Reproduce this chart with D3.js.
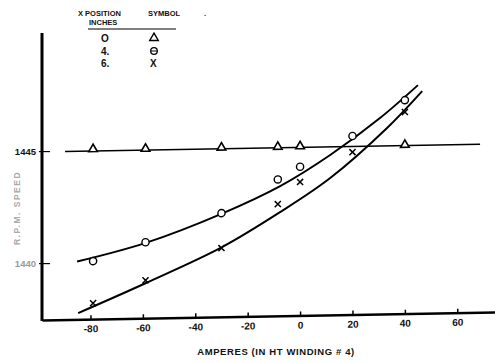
<!DOCTYPE html>
<html><head><meta charset="utf-8">
<script src="https://cdn.jsdelivr.net/npm/d3@7"></script>
<style>body{margin:0;background:#fff}svg{display:block}</style>
</head><body>
<svg id="c" width="495" height="363"></svg>
<script>
// ---- data ----
const xTicks = [-80, -60, -40, -20, 0, 20, 40, 60];
const xTickLabels = ["-80", "-60", "-40", "-20", "0", "20", "40", "60"];
const yTicks = [1445, 1440];
const yTickLabels = ["1445", "1440"];

// position 0 in (triangles)
const triAmps = [-79, -59, -30, -8.5, 0, 40];
const triSpeed = [1445.0, 1444.98, 1444.97, 1444.96, 1444.97, 1444.95];
const triLineAmps = [-89.7, 68.7];
const triLineSpeed = [1444.96, 1444.96];

// position 4 in (circles)
const circAmps = [-79, -59, -30, -8.5, 0, 20, 40];
const circSpeed = [1440.05, 1440.85, 1442.09, 1443.55, 1444.1, 1445.43, 1446.99];
const circCurveAmps = [-85.1, -59.2, -29.8, -7.6, 11.5, 30.5, 45.0];
const circCurveSpeed = [1440.04, 1440.81, 1442.07, 1443.25, 1444.60, 1446.21, 1447.65];

// position 6 in (crosses)
const crossAmps = [-79, -59, -30, -8.5, 0, 20, 40];
const crossSpeed = [1438.17, 1439.15, 1440.53, 1442.45, 1443.42, 1444.71, 1446.46];
const crossCurveAmps = [-84.7, -58.8, -29.8, -7.6, 11.5, 33.2, 46.6];
const crossCurveSpeed = [1437.74, 1439.03, 1440.57, 1442.09, 1443.57, 1445.76, 1447.38];

// ---- drawing ----
const svg = d3.select("#c");
const font = "'Liberation Sans', Arial, sans-serif";
const L = 42, R = 495, T = 33, B = 320;
const x = d3.scaleLinear().domain([-98.5, 74.4]).range([L, R]);
const y = d3.scaleLinear().domain([1437.46, 1450.27]).range([B, T]);

// plot group with slight scan shear
const g = svg.append("g").attr("transform", `translate(${L},0) skewY(-1) translate(${-L},0)`);

// x axis
const xAxis = d3.axisBottom(x).tickValues(xTicks)
  .tickFormat((d, i) => xTickLabels[i]).tickSizeInner(-4).tickSizeOuter(0).tickPadding(6);
const xa = g.append("g").attr("transform", `translate(0,${B})`).call(xAxis);
xa.select(".domain").attr("stroke", "#000").attr("stroke-width", 2.5);
xa.selectAll(".tick line").attr("stroke", "#000").attr("stroke-width", 1.5);
xa.selectAll(".tick text").attr("font-family", font).attr("font-size", 10)
  .attr("font-weight", "bold").attr("fill", "#111");

// y axis
const yAxis = d3.axisLeft(y).tickValues(yTicks)
  .tickFormat((d, i) => yTickLabels[i]).tickSize(3).tickPadding(4);
const ya = svg.append("g").attr("transform", `translate(${L},0)`).call(yAxis);
ya.select(".domain").remove();
ya.selectAll(".tick line").attr("stroke", "#000").attr("stroke-width", 1.2).attr("x2", 8).attr("x1", -3);
ya.selectAll(".tick text").attr("font-family", font).attr("font-size", 9.5)
  .attr("font-weight", "bold").attr("x", -6)
  .attr("fill", (d, i) => i === 0 ? "#111" : "#999");
svg.append("line").attr("x1", L).attr("x2", L).attr("y1", T).attr("y2", B + 1)
  .attr("stroke", "#000").attr("stroke-width", 3);

// y title (faint in the scan)
svg.append("text").attr("transform", `translate(20,208) rotate(-90)`)
  .attr("text-anchor", "middle").attr("font-family", font).attr("font-size", 8.5)
  .attr("font-weight", "bold").attr("fill", "#aaa").attr("letter-spacing", 1.5)
  .text("R.P.M.     SPEED");

// x title
svg.append("text").attr("x", 276).attr("y", 355).attr("text-anchor", "middle")
  .attr("font-family", font).attr("font-size", 9.5).attr("font-weight", "bold")
  .attr("fill", "#111").attr("letter-spacing", 0.6)
  .text("AMPERES   (IN HT WINDING # 4)");

// lines
const line = d3.line().x(d => x(d[0])).y(d => y(d[1]));
const smooth = d3.line().x(d => x(d[0])).y(d => y(d[1])).curve(d3.curveCatmullRom.alpha(0.5));
g.append("path").attr("d", line(d3.zip(triLineAmps, triLineSpeed)))
  .attr("fill", "none").attr("stroke", "#000").attr("stroke-width", 1.6);
g.append("path").attr("d", smooth(d3.zip(circCurveAmps, circCurveSpeed)))
  .attr("fill", "none").attr("stroke", "#000").attr("stroke-width", 2);
g.append("path").attr("d", smooth(d3.zip(crossCurveAmps, crossCurveSpeed)))
  .attr("fill", "none").attr("stroke", "#000").attr("stroke-width", 2);

// markers
const tri = d3.symbol().type(d3.symbolTriangle).size(32);
g.selectAll(".tri").data(d3.zip(triAmps, triSpeed)).join("path")
  .attr("transform", d => `translate(${x(d[0])},${y(d[1]) - 1})`).attr("d", tri())
  .attr("fill", "#fff").attr("stroke", "#000").attr("stroke-width", 1.6);
g.selectAll(".circ").data(d3.zip(circAmps, circSpeed)).join("circle")
  .attr("cx", d => x(d[0])).attr("cy", d => y(d[1])).attr("r", 3.6)
  .attr("fill", "#fff").attr("stroke", "#000").attr("stroke-width", 1.4);
const cross = d3.symbol().type(d3.symbolX).size(26);
g.selectAll(".cross").data(d3.zip(crossAmps, crossSpeed)).join("path")
  .attr("transform", d => `translate(${x(d[0])},${y(d[1])})`).attr("d", cross())
  .attr("fill", "none").attr("stroke", "#000").attr("stroke-width", 1.5);

// legend
const lg = svg.append("g").attr("font-family", font).attr("font-weight", "bold").attr("fill", "#111");
lg.append("text").attr("x", 78).attr("y", 16).attr("font-size", 7.5).text("X POSITION");
lg.append("text").attr("x", 89).attr("y", 25).attr("font-size", 7.5).text("INCHES");
lg.append("text").attr("x", 148).attr("y", 16).attr("font-size", 7.5).text("SYMBOL");
lg.append("text").attr("x", 204).attr("y", 16).attr("font-size", 7.5).text(".");
lg.append("line").attr("x1", 88).attr("x2", 176).attr("y1", 29).attr("y2", 29)
  .attr("stroke", "#000").attr("stroke-width", 1);
const legPos = ["O", "4.", "6."];
const legY = [42, 55, 67];
legPos.forEach((t, i) => lg.append("text").attr("x", 101).attr("y", legY[i])
  .attr("font-size", 10).text(t));
lg.append("path").attr("transform", `translate(154,${legY[0] - 4})`).attr("d", tri())
  .attr("fill", "#fff").attr("stroke", "#000").attr("stroke-width", 1.4);
lg.append("circle").attr("cx", 154).attr("cy", legY[1] - 4).attr("r", 3.3)
  .attr("fill", "#fff").attr("stroke", "#000").attr("stroke-width", 1.3);
lg.append("line").attr("x1", 151).attr("x2", 157).attr("y1", legY[1] - 4).attr("y2", legY[1] - 4)
  .attr("stroke", "#000").attr("stroke-width", 1);
lg.append("text").attr("x", 150).attr("y", legY[2]).attr("font-size", 10).text("X");
</script>
</body></html>
